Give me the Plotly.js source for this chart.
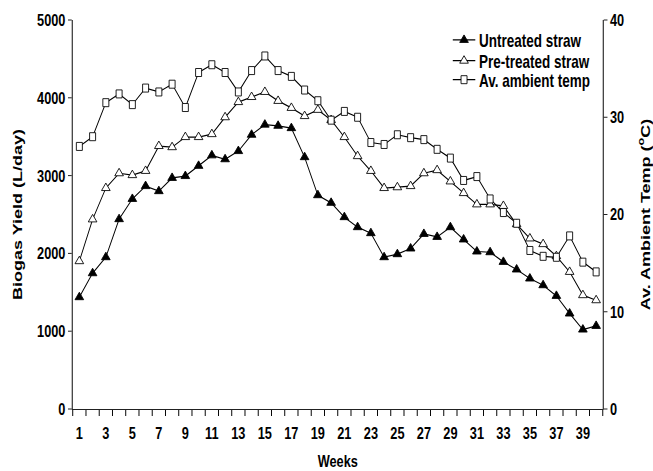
<!DOCTYPE html>
<html>
<head>
<meta charset="utf-8">
<script src="https://cdn.plot.ly/plotly-3.0.1.min.js"></script>
<style>
  html, body { margin: 0; padding: 0; overflow: hidden; background: #fff; }
  #chart { width: 871px; height: 471px; transform: scaleX(0.7497); transform-origin: 0 0; }
</style>
</head>
<body>
<div id="chart"></div>
<script>
// Data
const weeks = [1,2,3,4,5,6,7,8,9,10,11,12,13,14,15,16,17,18,19,20,21,22,23,24,25,26,27,28,29,30,31,32,33,34,35,36,37,38,39,40];
const untreated = [1437,1745,1951,2440,2700,2865,2800,2970,2994,3125,3260,3210,3315,3525,3655,3640,3610,3237,2748,2650,2466,2337,2260,1951,1990,2063,2250,2212,2337,2179,2024,2015,1891,1793,1677,1591,1454,1227,1021,1068];
const pretreated = [1900,2437,2840,3030,3006,3060,3380,3365,3495,3495,3533,3750,3945,4010,4075,3960,3870,3765,3845,3714,3495,3250,3060,2840,2850,2865,3030,3070,2925,2775,2630,2630,2610,2375,2192,2119,1964,1762,1463,1398];
const ambientTemp = [27.0,28.0,31.5,32.4,31.3,33.0,32.6,33.4,31.0,34.6,35.4,34.6,32.6,34.8,36.3,34.8,34.2,32.8,31.7,29.7,30.6,30.0,27.4,27.2,28.2,27.9,27.7,26.7,25.8,23.5,23.9,21.6,20.2,19.1,16.3,15.7,15.6,17.8,15.1,14.1];
const xTickLabels = ['1','3','5','7','9','11','13','15','17','19','21','23','25','27','29','31','33','35','37','39'];
const xTickVals = xTickLabels.map(Number);
const xBoundaries = [];
for (let i = 0; i <= weeks.length; i++) xBoundaries.push(i + 0.5);

const FONT = 'Liberation Sans, Arial, sans-serif';
const legendFont = {family: FONT, size: 18, color: '#000', weight: 'bold'};

const traces = [
  {
    x: weeks, y: untreated, name: 'Untreated straw', type: 'scatter', mode: 'lines+markers',
    legend: 'legend',
    line: {color: '#000', width: 1.2},
    marker: {symbol: 'triangle-up', size: 10, color: '#000', line: {color: '#000', width: 1}}
  },
  {
    x: weeks, y: pretreated, name: 'Pre-treated straw', type: 'scatter', mode: 'lines+markers',
    legend: 'legend2',
    line: {color: '#000', width: 1.2},
    marker: {symbol: 'triangle-up', size: 10, color: '#fff', line: {color: '#000', width: 1}}
  },
  {
    x: weeks, y: ambientTemp, name: 'Av. ambient temp', type: 'scatter', mode: 'lines+markers',
    yaxis: 'y2', legend: 'legend3',
    line: {color: '#000', width: 1.2},
    marker: {symbol: 'square', size: 8, color: '#fff', line: {color: '#000', width: 1}}
  }
];

function legendAt(yPaper) {
  return {
    x: 0.710, y: yPaper, xanchor: 'left', yanchor: 'middle',
    font: legendFont, bgcolor: 'rgba(0,0,0,0)', borderwidth: 0
  };
}

const layout = {
  width: 871, height: 471,
  margin: {l: 97, r: 67, t: 20, b: 62},
  paper_bgcolor: '#fff', plot_bgcolor: '#fff',
  showlegend: true,
  legend: legendAt(0.948),
  legend2: legendAt(0.8946),
  legend3: legendAt(0.8458),
  xaxis: {
    range: [0.5, 40.5], tickmode: 'array', tickvals: xTickVals, ticktext: xTickLabels,
    ticks: '', showgrid: false, zeroline: false,
    showline: true, linecolor: '#000', linewidth: 1,
    tickfont: {family: FONT, size: 17, color: '#000', weight: 'bold'},
    ticklabelstandoff: 9,
    minor: {tickmode: 'array', tickvals: xBoundaries, ticks: 'outside', ticklen: 6, tickcolor: '#000', tickwidth: 1.3, showgrid: false},
    title: {text: 'Weeks', font: {family: FONT, size: 17, color: '#000', weight: 'bold'}, standoff: 12}
  },
  yaxis: {
    range: [0, 5000], dtick: 1000, tick0: 0,
    ticks: 'outside', ticklen: 5, tickcolor: '#000', tickwidth: 1,
    showgrid: false, zeroline: false,
    showline: true, linecolor: '#000', linewidth: 1.3,
    tickfont: {family: FONT, size: 17, color: '#000', weight: 'bold'},
    title: {text: 'Biogas Yield (L/day)', font: {family: FONT, size: 18, color: '#000', weight: 'bold'}, standoff: 14}
  },
  yaxis2: {
    overlaying: 'y', side: 'right',
    range: [0, 40], dtick: 10, tick0: 0,
    ticks: 'outside', ticklen: 5, tickcolor: '#000', tickwidth: 1,
    showgrid: false, zeroline: false,
    showline: true, linecolor: '#000', linewidth: 1.3,
    tickfont: {family: FONT, size: 17, color: '#000', weight: 'bold'},
    title: {text: 'Av. Ambient Temp (<sup>o</sup>C)', font: {family: FONT, size: 18, color: '#000', weight: 'bold'}, standoff: 22}
  }
};

Plotly.newPlot('chart', traces, layout, {displayModeBar: false, staticPlot: true});
</script>
</body>
</html>
